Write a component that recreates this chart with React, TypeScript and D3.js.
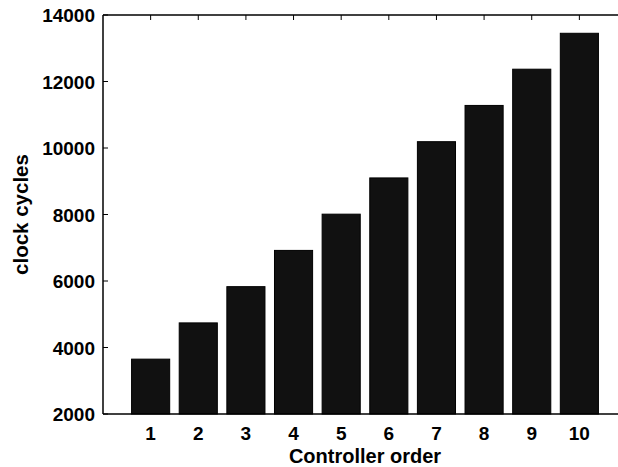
import React from "react";
import * as d3 from "d3";

const categories = [1, 2, 3, 4, 5, 6, 7, 8, 9, 10];
const clockCycles = [3650, 4740, 5830, 6920, 8010, 9100, 10190, 11280, 12370, 13450];
const yTicks = [2000, 4000, 6000, 8000, 10000, 12000, 14000];
const xLabel = "Controller order";
const yLabel = "clock cycles";

const W = 618;
const H = 467;
const left = 103;
const right = 627;
const top = 15;
const bottom = 414;

export default function App() {
  const x = d3.scaleLinear().domain([0, 11]).range([left, right]);
  const y = d3.scaleLinear().domain([2000, 14000]).range([bottom, top]);
  const bw = (x(1) - x(0)) * 0.8;
  const font = "'Liberation Sans', Arial, sans-serif";
  return (
    <svg width={W} height={H} style={{ position: "absolute", left: 0, top: 0, background: "#fff" }}>
      <rect x={0} y={0} width={W} height={H} fill="#fff" />
      {categories.map((c, i) => (
        <rect
          key={c}
          x={x(c) - bw / 2}
          y={y(clockCycles[i])}
          width={bw}
          height={y(2000) - y(clockCycles[i])}
          fill="#111"
          stroke="#000"
          strokeWidth={1}
        />
      ))}
      <line x1={left} x2={right} y1={top} y2={top} stroke="#000" strokeWidth={1.5} />
      <line x1={left} x2={right} y1={bottom} y2={bottom} stroke="#000" strokeWidth={1.5} />
      <line x1={left} x2={left} y1={top} y2={bottom} stroke="#000" strokeWidth={1.5} />
      {categories.map((c) => (
        <line key={"tt" + c} x1={x(c)} x2={x(c)} y1={top} y2={top + 5} stroke="#000" strokeWidth={1} />
      ))}
      {yTicks.map((t) => (
        <g key={"yt" + t}>
          <line x1={left} x2={left + 5} y1={y(t)} y2={y(t)} stroke="#000" strokeWidth={1} />
          <text
            x={left - 8}
            y={y(t) + 7}
            textAnchor="end"
            fontFamily={font}
            fontWeight="bold"
            fontSize={19}
            fill="#000"
          >
            {t}
          </text>
        </g>
      ))}
      {categories.map((c) => (
        <text
          key={"xl" + c}
          x={x(c)}
          y={440}
          textAnchor="middle"
          fontFamily={font}
          fontWeight="bold"
          fontSize={19}
          fill="#000"
        >
          {c}
        </text>
      ))}
      <text
        x={(left + right) / 2}
        y={463}
        textAnchor="middle"
        fontFamily={font}
        fontWeight="bold"
        fontSize={20}
        fill="#000"
      >
        {xLabel}
      </text>
      <text
        transform={`translate(28, ${(top + bottom) / 2}) rotate(-90)`}
        textAnchor="middle"
        fontFamily={font}
        fontWeight="bold"
        fontSize={20.5}
        fill="#000"
      >
        {yLabel}
      </text>
    </svg>
  );
}
